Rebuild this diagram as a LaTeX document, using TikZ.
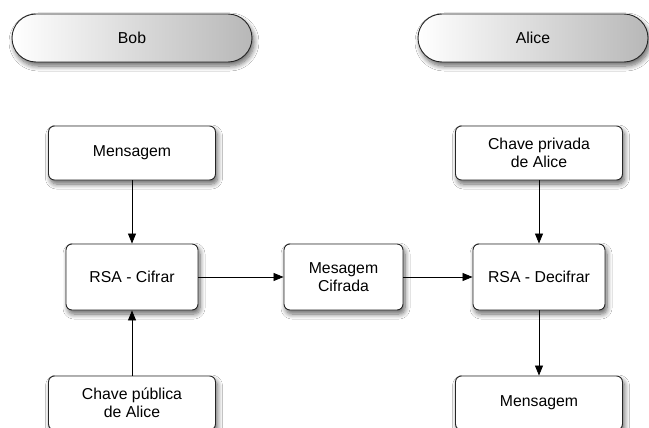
\documentclass[tikz,border=0pt]{standalone}
\usepackage{fontspec}
\setmainfont{Liberation Sans}
\usetikzlibrary{arrows.meta,shadows.blur}
\begin{document}
\begin{tikzpicture}[x=1pt,y=-1pt,
  every node/.style={font=\fontsize{15.8}{18}\selectfont, text=black},
  softshadow/.style={blur shadow={shadow xshift=2pt, shadow yshift=-4pt, shadow blur steps=8, shadow blur radius=5pt, shadow opacity=60}},
  box/.style={draw=black!85, line width=0.9pt, fill=white, rounded corners=6pt,
    align=center, inner sep=0pt, softshadow},
  pill/.style={draw=black!85, line width=0.9pt, rounded corners=24pt,
    left color=white, right color=black!28, minimum width=240pt, minimum height=48pt, inner sep=0pt,
    softshadow},
  link/.style={draw=black, line width=0.8pt, -{Triangle[length=10pt,width=8pt]}}
]
\useasboundingbox (0,0) rectangle (649,428);
\fill[white] (0,0) rectangle (649,428);

% lane headers
\node[pill] (bob) at (132,38) {Bob};
\node[pill, minimum width=230pt] (alice) at (533,38) {Alice};

% sender side
\node[box, minimum width=167pt, minimum height=54pt] (msg) at (132,153) {Mensagem};
\node[box, minimum width=132pt, minimum height=66pt] (enc) at (132,277) {RSA - Cifrar};
\node[box, minimum width=167pt, minimum height=54pt] (pub) at (132,403) {Chave pública\\de Alice};

% channel
\node[box, minimum width=119pt, minimum height=66pt] (cip) at (343.5,277) {Mesagem\\Cifrada};

% receiver side
\node[box, minimum width=167pt, minimum height=54pt] (priv) at (539,153) {Chave privada\\de Alice};
\node[box, minimum width=132pt, minimum height=66pt] (dec) at (539,277) {RSA - Decifrar};
\node[box, minimum width=167pt, minimum height=54pt] (out) at (539,403) {Mensagem};

\draw[link] (msg) -- (enc);
\draw[link] (pub) -- (enc);
\draw[link] (enc) -- (cip);
\draw[link] (cip) -- (dec);
\draw[link] (priv) -- (dec);
\draw[link] (dec) -- (out);
\end{tikzpicture}
\end{document}
